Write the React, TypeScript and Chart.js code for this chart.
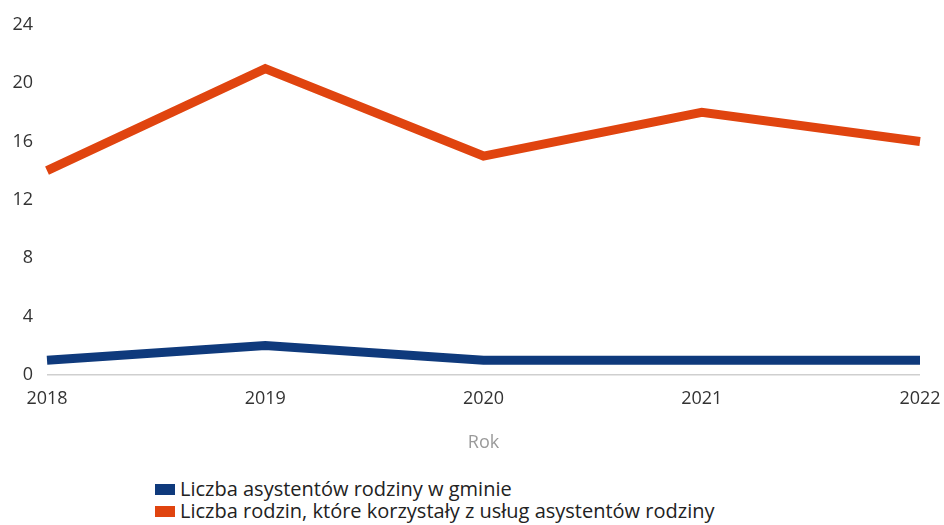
import React, { useEffect, useRef } from "react";
import { Chart, registerables } from "chart.js";

Chart.register(...registerables);

const years = ["2018", "2019", "2020", "2021", "2022"];
const assistants = [1, 2, 1, 1, 1];
const families = [14, 21, 15, 18, 16];
const yTicks = [0, 4, 8, 12, 16, 20, 24];
const seriesNames = [
  "Liczba asystentów rodziny w gminie",
  "Liczba rodzin, które korzystały z usług asystentów rodziny",
];
const BLUE = "#0f3a7c";
const ORANGE = "#e0440f";
const FONT = "'Open Sans', 'Noto Sans', sans-serif";

export default function App() {
  const ref = useRef<HTMLCanvasElement | null>(null);

  useEffect(() => {
    document.body.style.margin = "0";
    const canvas = ref.current;
    if (!canvas) return;
    const chart = new Chart(canvas, {
      type: "line",
      data: {
        labels: years,
        datasets: [
          {
            label: seriesNames[0],
            data: assistants,
            borderColor: BLUE,
            backgroundColor: BLUE,
            borderWidth: 9,
            pointRadius: 0,
            tension: 0,
            borderJoinStyle: "miter",
            borderCapStyle: "butt",
          },
          {
            label: seriesNames[1],
            data: families,
            borderColor: ORANGE,
            backgroundColor: ORANGE,
            borderWidth: 9,
            pointRadius: 0,
            tension: 0,
            borderJoinStyle: "miter",
            borderCapStyle: "butt",
          },
        ],
      },
      options: {
        animation: false,
        responsive: false,
        maintainAspectRatio: false,
        layout: { padding: { top: 14, right: 0, left: 0, bottom: 0 } },
        plugins: {
          legend: { display: false },
          tooltip: { enabled: false },
        },
        scales: {
          x: {
            offset: false,
            afterFit: (scale: any) => {
              scale.paddingRight = 24;
            },
            grid: { display: false, drawTicks: false },
            border: { display: false },
            ticks: {
              color: "#333",
              font: { family: FONT, size: 18 },
              padding: 13,
              maxRotation: 0,
            },
            title: {
              display: true,
              text: "Rok",
              color: "#9a9a9a",
              font: { family: FONT, size: 18 },
              padding: { top: 10, bottom: 0 },
            },
          },
          y: {
            min: 0,
            max: 24,
            afterBuildTicks: (scale: any) => {
              scale.ticks = yTicks.map((v) => ({ value: v }));
            },
            afterFit: (scale: any) => {
              scale.width = 47;
            },
            grid: {
              drawTicks: false,
              color: (c: any) => (c.tick && c.tick.value === 0 ? "#cfcfcf" : "rgba(0,0,0,0)"),
              lineWidth: 1.5,
            },
            border: { display: false },
            ticks: {
              color: "#333",
              font: { family: FONT, size: 18 },
              padding: 14,
            },
          },
        },
      },
    });
    return () => chart.destroy();
  }, []);

  const legendColors = [BLUE, ORANGE];

  return (
    <div style={{ position: "relative", width: 944, height: 525, background: "#fff", overflow: "hidden" }}>
      <canvas ref={ref} width={944} height={454} style={{ display: "block" }} />
      <div
        style={{
          position: "absolute",
          left: 155,
          top: 478,
          fontFamily: FONT,
          fontSize: 20,
          color: "#222",
          lineHeight: "22px",
        }}
      >
        {seriesNames.map((name, i) => (
          <div key={name} style={{ display: "flex", alignItems: "center", whiteSpace: "nowrap" }}>
            <span
              style={{
                display: "inline-block",
                width: 20,
                height: 11,
                background: legendColors[i],
                marginRight: 5,
              }}
            />
            <span>{name}</span>
          </div>
        ))}
      </div>
    </div>
  );
}
